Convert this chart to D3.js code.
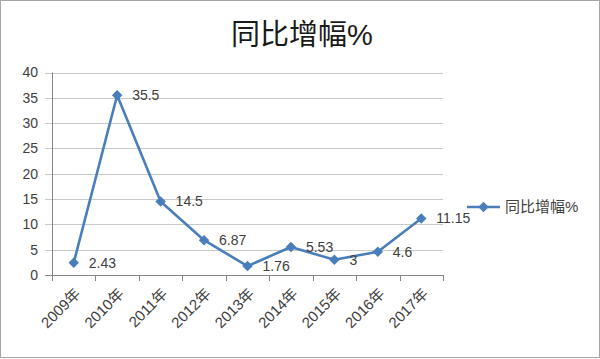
<!DOCTYPE html>
<html><head><meta charset="utf-8">
<script src="https://cdn.jsdelivr.net/npm/d3@7"></script>
<style>body{margin:0;background:#fff}svg{display:block}text{font-family:"Liberation Sans","Noto Sans CJK SC",sans-serif;fill:#404040}</style>
</head><body><svg id="c" width="600" height="359"></svg>
<script>
const categories=["2009年","2010年","2011年","2012年","2013年","2014年","2015年","2016年","2017年"];
const values=[2.43,35.5,14.5,6.87,1.76,5.53,3,4.6,11.15];
const labels=["2.43","35.5","14.5","6.87","1.76","5.53","3","4.6","11.15"];
const yTicks=[0,5,10,15,20,25,30,35,40];
const seriesName="同比增幅%";
const title="同比增幅%";

const svg=d3.select("#c");
svg.append("rect").attr("x",0.5).attr("y",0.5).attr("width",599).attr("height",357).attr("fill","#fff").attr("stroke","#a6a6a6");
const x=d3.scaleBand().domain(categories).range([52,443]);
const y=d3.scaleLinear().domain([0,40]).range([275,72.5]);
const col="#4a7ebb";
svg.append("g").selectAll("line").data(yTicks).join("line")
 .attr("x1",45).attr("x2",443).attr("y1",d=>Math.round(y(d))+0.5).attr("y2",d=>Math.round(y(d))+0.5)
 .attr("stroke",d=>d===0?"#868686":"#c8c8c8").attr("stroke-width",1);
svg.append("line").attr("x1",52.5).attr("x2",52.5).attr("y1",72.5).attr("y2",275.5).attr("stroke","#868686");
svg.append("g").selectAll("text").data(yTicks).join("text")
 .attr("x",38).attr("y",d=>y(d)).attr("dy","0.35em").attr("text-anchor","end").attr("font-size",14).text(d=>d);
const edges=categories.map(c=>x(c)).concat([x.range()[1]]);
svg.append("g").selectAll("line").data(edges).join("line")
 .attr("x1",d=>Math.round(d)+0.5).attr("x2",d=>Math.round(d)+0.5).attr("y1",275).attr("y2",281).attr("stroke","#868686");
svg.append("g").selectAll("text").data(categories).join("text")
 .attr("transform",d=>`translate(${x(d)+x.bandwidth()/2+4},${291}) rotate(-45)`)
 .attr("text-anchor","end").attr("dy","0.35em").attr("font-size",15).text(d=>d);
const cx=(d,i)=>x(categories[i])+x.bandwidth()/2;
svg.append("path").datum(values).attr("fill","none").attr("stroke",col).attr("stroke-width",2.6).attr("stroke-linejoin","round")
 .attr("d",d3.line().x((d,i)=>cx(d,i)).y(d=>y(d)));
const diamond=d3.symbol().type(d3.symbolDiamond2).size(70);
svg.append("g").selectAll("path").data(values).join("path")
 .attr("transform",(d,i)=>`translate(${cx(d,i)},${y(d)})`).attr("d",diamond).attr("fill",col);
svg.append("g").selectAll("text").data(values).join("text")
 .attr("x",(d,i)=>cx(d,i)+15).attr("y",d=>y(d)).attr("dy","0.35em").attr("font-size",14).text((d,i)=>labels[i]);
svg.append("text").attr("x",302).attr("y",45).attr("text-anchor","middle").attr("font-size",29).style("fill","#1a1a1a").text(title);
svg.append("line").attr("x1",467).attr("x2",500).attr("y1",207).attr("y2",207).attr("stroke",col).attr("stroke-width",2.6);
svg.append("path").attr("transform","translate(483.5,207)").attr("d",diamond).attr("fill",col);
svg.append("text").attr("x",505).attr("y",207).attr("dy","0.35em").attr("font-size",15).text(seriesName);
</script></body></html>
